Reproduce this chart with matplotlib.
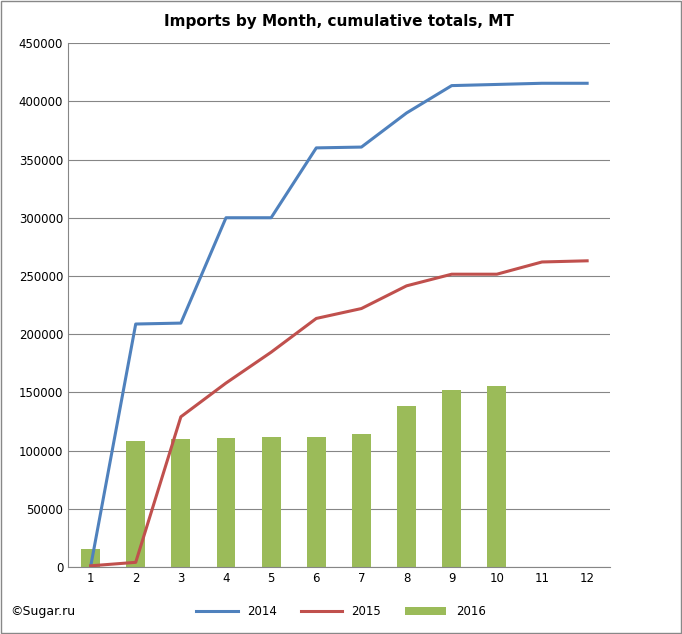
import matplotlib
matplotlib.use("Agg")
import matplotlib.pyplot as plt
from matplotlib.patches import Rectangle

months = [1, 2, 3, 4, 5, 6, 7, 8, 9, 10, 11, 12]
bar_months = [1, 2, 3, 4, 5, 6, 7, 8, 9, 10]
s2016 = [15500, 108000, 110000, 111000, 112000, 112000, 114000, 138000, 152000, 155500]
s2014 = [0, 208700, 209500, 300000, 300000, 360000, 360700, 390000, 413500, 414500, 415500, 415500]
s2015 = [1000, 4000, 129000, 158000, 184500, 213500, 222000, 241500, 251500, 251500, 262000, 263000]

fig = plt.figure(figsize=(6.82, 6.34), dpi=100)
fig.patches.append(Rectangle((0.001, 0.001), 0.998, 0.998, transform=fig.transFigure,
                             fill=False, edgecolor="#888888", linewidth=1))
ax = fig.add_axes([0.0997, 0.1057, 0.7943, 0.8263])
ax.bar(bar_months, s2016, width=0.42, color="#9BBB59", label="2016", zorder=2)
ax.plot(months, s2014, color="#4F81BD", linewidth=2.2, label="2014", zorder=3)
ax.plot(months, s2015, color="#C0504D", linewidth=2.2, label="2015", zorder=3)
ax.set_xlim(0.5, 12.5)
ax.set_ylim(0, 450000)
ax.set_yticks(range(0, 450001, 50000))
ax.set_xticks(months)
ax.tick_params(labelsize=8.5, length=0)
ax.grid(axis="y", color="#868686", linewidth=0.8, zorder=0)
for s in ["top", "right", "left"]:
    ax.spines[s].set_visible(False)
ax.spines["bottom"].set_color("#868686")
ax.spines["left"].set_visible(True)
ax.spines["left"].set_color("#868686")
ax.set_title("Imports by Month, cumulative totals, MT", fontsize=11, fontweight="bold", pad=12)
fig.legend(loc="center", bbox_to_anchor=(0.5, 0.035), ncol=3, frameon=False, fontsize=8.5,
           handlelength=3.5)
fig.text(0.015, 0.035, "©Sugar.ru", fontsize=9, va="center")
fig.savefig("out.png", dpi=100)
